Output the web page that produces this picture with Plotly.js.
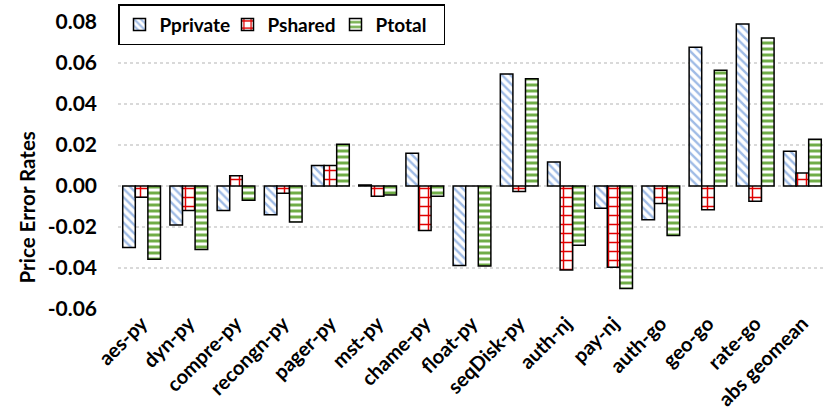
<!DOCTYPE html>
<html>
<head>
<meta charset="utf-8">
<script src="https://cdn.plot.ly/plotly-3.0.1.min.js"></script>
<style>html,body{margin:0;padding:0;background:#fff;}#chart{width:830px;height:417px;}</style>
</head>
<body>
<div id="chart"></div>
<script>
const categories = ["aes-py","dyn-py","compre-py","recongn-py","pager-py","mst-py","chame-py","float-py","seqDisk-py","auth-nj","pay-nj","auth-go","geo-go","rate-go","abs geomean"];
const pprivate = [-0.030,-0.019,-0.012,-0.014,0.010,0.0005,0.016,-0.0388,0.0546,0.0117,-0.0108,-0.0165,0.0677,0.079,0.017];
const pshared  = [-0.0055,-0.012,0.005,-0.0035,0.010,-0.005,-0.0217,0,-0.0027,-0.041,-0.0396,-0.0085,-0.0116,-0.0074,0.0063];
const ptotal   = [-0.0357,-0.031,-0.0069,-0.0176,0.0204,-0.0044,-0.005,-0.039,0.0523,-0.0289,-0.050,-0.0241,0.0565,0.0722,0.0228];
const yTickVals = [-0.06,-0.04,-0.02,0.00,0.02,0.04,0.06,0.08];
const yTickText = ["-0.06","-0.04","-0.02","0.00","0.02","0.04","0.06","0.08"];
const seriesNames = ["Pprivate","Pshared","Ptotal"];

const FONT = "Lato, 'Open Sans', sans-serif";
const lineStyle = {color:"#000", width:1.5};

const traces = [
  {type:"bar", name:seriesNames[0], x:categories, y:pprivate,
   marker:{color:"#ffffff", line:lineStyle, pattern:{shape:"\\", fgcolor:"#9fbbe6", bgcolor:"#ffffff", size:6, solidity:0.4, fillmode:"replace"}}},
  {type:"bar", name:seriesNames[1], x:categories, y:pshared,
   marker:{color:"#ffffff", line:lineStyle, pattern:{shape:"+", fgcolor:"#e00000", bgcolor:"#ffffff", size:9, solidity:0.3, fillmode:"replace"}}},
  {type:"bar", name:seriesNames[2], x:categories, y:ptotal,
   marker:{color:"#ffffff", line:lineStyle, pattern:{shape:"-", fgcolor:"#70ad47", bgcolor:"#ffffff", size:6, solidity:0.5, fillmode:"replace"}}}
];

const boundaries = [];
for (let i = 0; i <= categories.length; i++) boundaries.push(i - 0.5);

const yMin = yTickVals[0], yMax = yTickVals[yTickVals.length-1];

const layout = {
  width:830, height:417,
  margin:{l:118, r:4, t:19, b:108},
  paper_bgcolor:"#fff", plot_bgcolor:"#fff",
  font:{family:FONT, size:19, color:"#000", weight:"bold"},
  barmode:"group", bargap:0.2, bargroupgap:0,
  showlegend:true,
  legend:{orientation:"h", x:0, xanchor:"left", y:1.062, yanchor:"top",
          bordercolor:"#000", borderwidth:1.5, bgcolor:"#fff",
          font:{family:FONT, size:19, color:"#000", weight:"bold"},
          itemwidth:30, tracegroupgap:0, entrywidth:63, entrywidthmode:"pixels"},
  xaxis:{type:"category", showline:false, ticks:"", showgrid:false, zeroline:false,
         tickangle:-45, tickfont:{family:FONT, size:20, color:"#000", weight:"bold"},
         ticklabelstandoff:-2},
  xaxis2:{overlaying:"x", anchor:"free", position:(0 - yMin)/(yMax - yMin),
          range:[-0.5, categories.length - 0.5], showline:true, linecolor:"#000", linewidth:2,
          ticks:"outside", ticklen:6, tickwidth:2.5, tickcolor:"#000",
          tickvals:boundaries, showticklabels:false, showgrid:false, zeroline:false, layer:"above traces"},
  yaxis:{range:[yMin, yMax], tickvals:yTickVals, ticktext:yTickText, showline:false, ticks:"",
         showgrid:true, gridcolor:"#d9d9d9", gridwidth:1.5, griddash:"dot", zeroline:false,
         tickfont:{family:FONT, size:21, color:"#000", weight:"bold"}, ticklabelstandoff:20},
  annotations:[{text:"Price Error Rates", textangle:-90, xref:"paper", yref:"paper",
                x:-0.128, xanchor:"center", y:(309-206)/290, yanchor:"middle", showarrow:false,
                font:{family:FONT, size:20.5, color:"#000", weight:"bold"}}]
};

Plotly.newPlot("chart", traces, layout, {staticPlot:true, displayModeBar:false});
</script>
</body>
</html>
